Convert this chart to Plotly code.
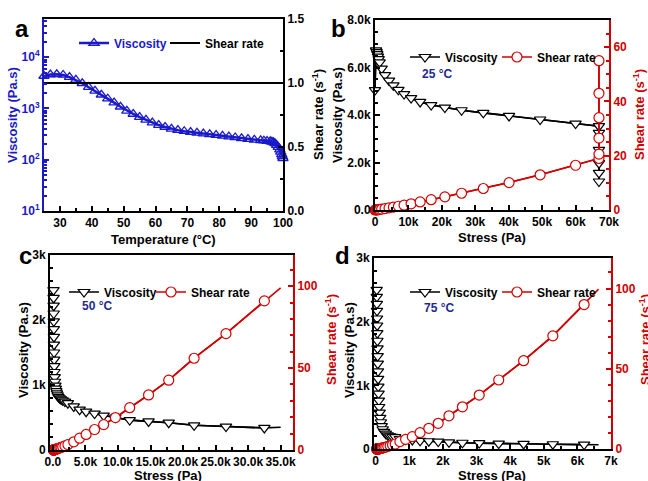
import plotly.graph_objects as go

# ---------------- data ----------------
# Panel a: viscosity vs temperature, constant shear rate
temp_a = [25, 27, 29, 31, 33, 35, 37, 39, 41, 43, 45, 47, 49, 51, 53, 55, 57, 59, 61, 63,
          65, 67, 69, 71, 73, 75, 77, 79, 81, 83, 85, 87, 89, 91, 93, 94, 95, 96, 96.5,
          97, 97.5, 98, 98.5, 99, 99.3, 99.6, 99.8, 100]
visc_a = [4300, 4600, 4650, 4500, 4100, 3600, 3100, 2600, 2200, 1850, 1550, 1300, 1080,
          900, 780, 680, 600, 530, 475, 435, 400, 378, 360, 347, 335, 324, 313, 302, 292,
          282, 272, 262, 253, 245, 238, 235, 232, 228, 224, 218, 208, 193, 176, 157, 142,
          127, 116, 107]
shear_temp_a = [25, 100]
shear_a = [1.0, 1.0]

# Panel b: 25 C
stress_b = [0, 300, 500, 700, 900, 1100, 1400, 2000, 3000, 4200, 5500, 7000, 8700, 10800,
            13500, 16800, 20900, 25900, 32400, 40100, 49400, 60000, 67000, 67000, 67000,
            67000, 67000, 67000]
visc_b = [5050, 6720, 6650, 6560, 6460, 6350, 6220, 5950, 5680, 5450, 5250, 5060, 4880,
          4710, 4550, 4420, 4310, 4200, 4090, 3960, 3810, 3640, 3530, 3250, 2530, 1970,
          1560, 1200]
shear_b = [0.0, 0.04, 0.08, 0.11, 0.14, 0.17, 0.23, 0.34, 0.53, 0.77, 1.05, 1.38, 1.78,
           2.29, 2.97, 3.8, 4.85, 6.17, 7.92, 10.1, 12.97, 16.48, 18.98, 20.6, 26.5, 34.0,
           43.0, 55.0]

# Panel c: 50 C (last point has no marker)
stress_c = [90, 100, 110, 120, 130, 140, 150, 160, 175, 190, 210, 235, 270, 320, 380, 450,
            530, 620, 730, 860, 1050, 1250, 1500, 1850, 2300, 3200, 4100, 5100, 6400, 7800,
            9600, 11800, 14700, 17800, 21700, 26600, 32500, 35000]
visc_c = [2460, 2340, 2220, 2100, 1980, 1860, 1740, 1620, 1500, 1390, 1290, 1200, 1120,
          1050, 990, 945, 905, 870, 840, 815, 795, 780, 765, 745, 720, 670, 620, 590, 560,
          530, 500, 460, 440, 420, 380, 360, 340, 350]
shear_c = [0.04, 0.04, 0.05, 0.06, 0.07, 0.08, 0.09, 0.1, 0.12, 0.14, 0.16, 0.2, 0.24, 0.3,
           0.38, 0.48, 0.59, 0.71, 0.87, 1.06, 1.32, 1.6, 1.96, 2.5, 3.3, 5.0, 7.2, 9.5,
           12.5, 15.5, 19.8, 25.8, 33.6, 42.6, 56.0, 71.0, 91.0, 99.0]

# Panel d: 75 C (last point has no marker)
stress_d = [30, 33, 36, 39, 42, 45, 48, 51, 55, 59, 63, 68, 73, 79, 86, 95, 105, 118, 135,
            155, 180, 210, 250, 300, 360, 430, 500, 580, 720, 890, 1090, 1320, 1580, 1860,
            2180, 2580, 3080, 3660, 4400, 5270, 6200, 6630]
visc_d = [2500, 2390, 2280, 2170, 2050, 1940, 1820, 1700, 1580, 1460, 1340, 1220, 1100,
          980, 870, 760, 660, 570, 490, 420, 360, 310, 270, 240, 215, 200, 192, 187, 157,
          148, 142, 129, 122, 116, 105, 98, 92, 85, 80, 75, 69, 66]
shear_d = [0.01, 0.01, 0.02, 0.02, 0.02, 0.02, 0.03, 0.03, 0.03, 0.04, 0.05, 0.06, 0.07,
           0.08, 0.1, 0.13, 0.16, 0.21, 0.28, 0.37, 0.5, 0.68, 0.93, 1.25, 1.67, 2.15, 2.6,
           3.1, 4.6, 6.0, 7.7, 10.2, 12.9, 16.0, 20.7, 26.3, 33.6, 43.0, 55.0, 70.5, 90.0,
           99.6]

temps_label = ["25 °C", "50 °C", "75 °C"]

# ---------------- style ----------------
W, H = 648, 481
FONT = "Liberation Sans, Arial, sans-serif"
RED = "#d00000"
BLUE = "#1a1acb"
DBLUE = "#1f2a8f"
BLACK = "#000000"


def px(x):
    return x / W


def py(y):
    return 1 - y / H


fig = go.Figure()

# ---- Panel a ----
fig.add_trace(go.Scatter(x=temp_a, y=visc_a, mode="lines+markers", name="Viscosity",
                         line=dict(color=BLUE, width=2.5),
                         marker=dict(symbol="triangle-up-open", size=9, color=BLUE,
                                     line=dict(width=1.3, color=BLUE)),
                         xaxis="x", yaxis="y", legend="legend", cliponaxis=False))
fig.add_trace(go.Scatter(x=shear_temp_a, y=shear_a, mode="lines", name="Shear rate",
                         line=dict(color=BLACK, width=2),
                         xaxis="x", yaxis="y2", legend="legend2"))


def stress_panel(stress, visc, shear, xa, yl, yr, leg_v, leg_s, marker_n):
    fig.add_trace(go.Scatter(x=stress, y=visc, mode="lines", showlegend=False,
                             line=dict(color=BLACK, width=1.6), xaxis=xa, yaxis=yl,
                             cliponaxis=False))
    fig.add_trace(go.Scatter(x=stress, y=shear, mode="lines", showlegend=False,
                             line=dict(color=RED, width=1.6), xaxis=xa, yaxis=yr,
                             cliponaxis=False))
    fig.add_trace(go.Scatter(x=stress[:marker_n], y=visc[:marker_n], mode="lines+markers",
                             name="Viscosity", legend=leg_v,
                             line=dict(color=BLACK, width=1.6),
                             marker=dict(symbol="triangle-down", size=10, color="white",
                                         line=dict(width=1.2, color=BLACK)),
                             xaxis=xa, yaxis=yl, cliponaxis=False))
    fig.add_trace(go.Scatter(x=stress[:marker_n], y=shear[:marker_n], mode="lines+markers",
                             name="Shear rate", legend=leg_s,
                             line=dict(color=RED, width=1.6),
                             marker=dict(symbol="circle", size=10, color="white",
                                         line=dict(width=1.2, color=RED)),
                             xaxis=xa, yaxis=yr, cliponaxis=False))


stress_panel(stress_b, visc_b, shear_b, "x2", "y3", "y4", "legend3", "legend4", len(stress_b))
stress_panel(stress_c, visc_c, shear_c, "x3", "y5", "y6", "legend5", "legend6", len(stress_c) - 1)
stress_panel(stress_d, visc_d, shear_d, "x4", "y7", "y8", "legend7", "legend8", len(stress_d) - 1)


def ax(color=BLACK, **kw):
    d = dict(showline=True, linecolor=color, linewidth=2, ticks="inside", ticklen=5,
             tickwidth=1.5, tickcolor=color, showgrid=False, zeroline=False,
             tickfont=dict(family=FONT, size=12, color=color, weight="bold"),
             automargin=False)
    d.update(kw)
    return d


dom = {
    "a": ([px(44), px(283)], [py(211), py(19)]),
    "b": ([px(375), px(609)], [py(210), py(20)]),
    "c": ([px(50), px(293)], [py(450), py(255)]),
    "d": ([px(374), px(611)], [py(449), py(258)]),
}

log_minor = [v * m for v in (10, 100, 1000, 10000) for m in range(2, 10)]

fig.update_layout(
    width=W, height=H, margin=dict(l=0, r=0, t=0, b=0),
    paper_bgcolor="white", plot_bgcolor="white",
    font=dict(family=FONT, color=BLACK),
    # panel a
    xaxis=ax(domain=dom["a"][0], anchor="y", range=[25, 100], mirror=True,
             tickvals=[30, 40, 50, 60, 70, 80, 90, 100],
             minor=dict(ticks="inside", ticklen=3, dtick=5, tickcolor=BLACK)),
    yaxis=ax(BLUE, domain=dom["a"][1], anchor="x", type="log", range=[1, 4.745],
             tickvals=[10, 100, 1000, 10000],
             ticktext=["10<sup>1</sup>", "10<sup>2</sup>", "10<sup>3</sup>", "10<sup>4</sup>"],
             minor=dict(ticks="inside", ticklen=3, tickvals=log_minor, tickcolor=BLUE)),
    yaxis2=ax(BLACK, domain=dom["a"][1], anchor="x", overlaying="y", side="right",
              range=[0, 1.5], tickvals=[0, 0.5, 1.0, 1.5], tickformat=".1f",
              minor=dict(ticks="inside", ticklen=3, dtick=0.25, tickcolor=BLACK)),
    # panel b
    xaxis2=ax(domain=dom["b"][0], anchor="y3", range=[0, 70000], mirror=True,
              tickvals=[0, 10000, 20000, 30000, 40000, 50000, 60000, 70000],
              ticktext=["0", "10k", "20k", "30k", "40k", "50k", "60k", "70k"],
              minor=dict(ticks="inside", ticklen=3, dtick=5000, tickcolor=BLACK)),
    yaxis3=ax(domain=dom["b"][1], anchor="x2", range=[0, 8000],
              tickvals=[0, 2000, 4000, 6000, 8000],
              ticktext=["0.0", "2.0k", "4.0k", "6.0k", "8.0k"],
              minor=dict(ticks="inside", ticklen=3, dtick=500, tickcolor=BLACK)),
    yaxis4=ax(RED, domain=dom["b"][1], anchor="x2", overlaying="y3", side="right",
              range=[0, 70], tickvals=[0, 20, 40, 60],
              minor=dict(ticks="inside", ticklen=3, dtick=5, tickcolor=RED)),
    # panel c
    xaxis3=ax(domain=dom["c"][0], anchor="y5", range=[-450, 36900], mirror=True,
              tickvals=[0, 5000, 10000, 15000, 20000, 25000, 30000, 35000],
              ticktext=["0.0", "5.0k", "10.0k", "15.0k", "20.0k", "25.0k", "30.0k", "35.0k"],
              minor=dict(ticks="inside", ticklen=3, dtick=2500, tickcolor=BLACK)),
    yaxis5=ax(domain=dom["c"][1], anchor="x3", range=[0, 3000],
              tickvals=[0, 1000, 2000, 3000], ticktext=["0", "1k", "2k", "3k"],
              minor=dict(ticks="inside", ticklen=3, dtick=200, tickcolor=BLACK)),
    yaxis6=ax(RED, domain=dom["c"][1], anchor="x3", overlaying="y5", side="right",
              range=[0, 119], tickvals=[0, 50, 100],
              minor=dict(ticks="inside", ticklen=3, dtick=10, tickcolor=RED)),
    # panel d
    xaxis4=ax(domain=dom["d"][0], anchor="y7", range=[-50, 7000], mirror=True,
              tickvals=[0, 1000, 2000, 3000, 4000, 5000, 6000, 7000],
              ticktext=["0", "1k", "2k", "3k", "4k", "5k", "6k", "7k"],
              minor=dict(ticks="inside", ticklen=3, dtick=500, tickcolor=BLACK)),
    yaxis7=ax(domain=dom["d"][1], anchor="x4", range=[0, 3000],
              tickvals=[0, 1000, 2000, 3000], ticktext=["0", "1k", "2k", "3k"],
              minor=dict(ticks="inside", ticklen=3, dtick=200, tickcolor=BLACK)),
    yaxis8=ax(RED, domain=dom["d"][1], anchor="x4", overlaying="y7", side="right",
              range=[0, 119], tickvals=[0, 50, 100],
              minor=dict(ticks="inside", ticklen=3, dtick=10, tickcolor=RED)),
)

# one legend per entry; position = start of the entry text (legend box sits 41 px left)
legend_pos = {
    "legend": (115, 43, BLUE), "legend2": (206, 43, BLACK),
    "legend3": (446, 57, BLACK), "legend4": (538, 57, BLACK),
    "legend5": (105, 292, BLACK), "legend6": (192, 292, BLACK),
    "legend7": (446, 292, BLACK), "legend8": (538, 292, BLACK),
}
for name, (tx, ty, col) in legend_pos.items():
    fig.update_layout({name: dict(x=px(tx - 41), y=py(ty), xanchor="left", yanchor="middle",
                                  orientation="h",
                                  font=dict(family=FONT, size=12, color=col, weight="bold"),
                                  bgcolor="rgba(0,0,0,0)", itemwidth=30)})

ann = []


def text(x, y, s, size=13, color=BLACK, angle=0):
    ann.append(dict(x=px(x), y=py(y), xref="paper", yref="paper", text=s,
                    showarrow=False, textangle=angle,
                    font=dict(family=FONT, size=size, color=color, weight="bold"),
                    xanchor="center", yanchor="middle"))


# panel letters
text(22, 28, "a", 24)
text(338, 28, "b", 24)
text(25, 255, "c", 24)
text(342, 255, "d", 24)
# axis titles
text(12, 115, "Viscosity (Pa.s)", 13, BLUE, -90)
text(318, 115, "Shear rate (s<sup>-1</sup>)", 13, BLACK, -90)
text(163, 239, "Temperature (°C)", 13)
text(337, 115, "Viscosity (Pa.s)", 13, BLACK, -90)
text(639, 115, "Shear rate (s<sup>-1</sup>)", 13, RED, -90)
text(492, 237, "Stress (Pa)", 13)
text(23, 350, "Viscosity (Pa.s)", 13, BLACK, -90)
text(331, 340, "Shear rate (s<sup>-1</sup>)", 13, RED, -90)
text(168, 475, "Stress (Pa)", 13)
text(349, 350, "Viscosity (Pa.s)", 13, BLACK, -90)
text(645, 340, "Shear rate (s<sup>-1</sup>)", 13, RED, -90)
text(492, 475, "Stress (Pa)", 13)
# temperatures
text(437, 74, temps_label[0], 12, DBLUE)
text(97, 306, temps_label[1], 12, DBLUE)
text(439, 308, temps_label[2], 12, DBLUE)

fig.update_layout(annotations=ann)
fig.write_html("out.html", config={"displayModeBar": False},
               post_script="document.body.style.margin='0px';document.body.style.padding='0px';")
